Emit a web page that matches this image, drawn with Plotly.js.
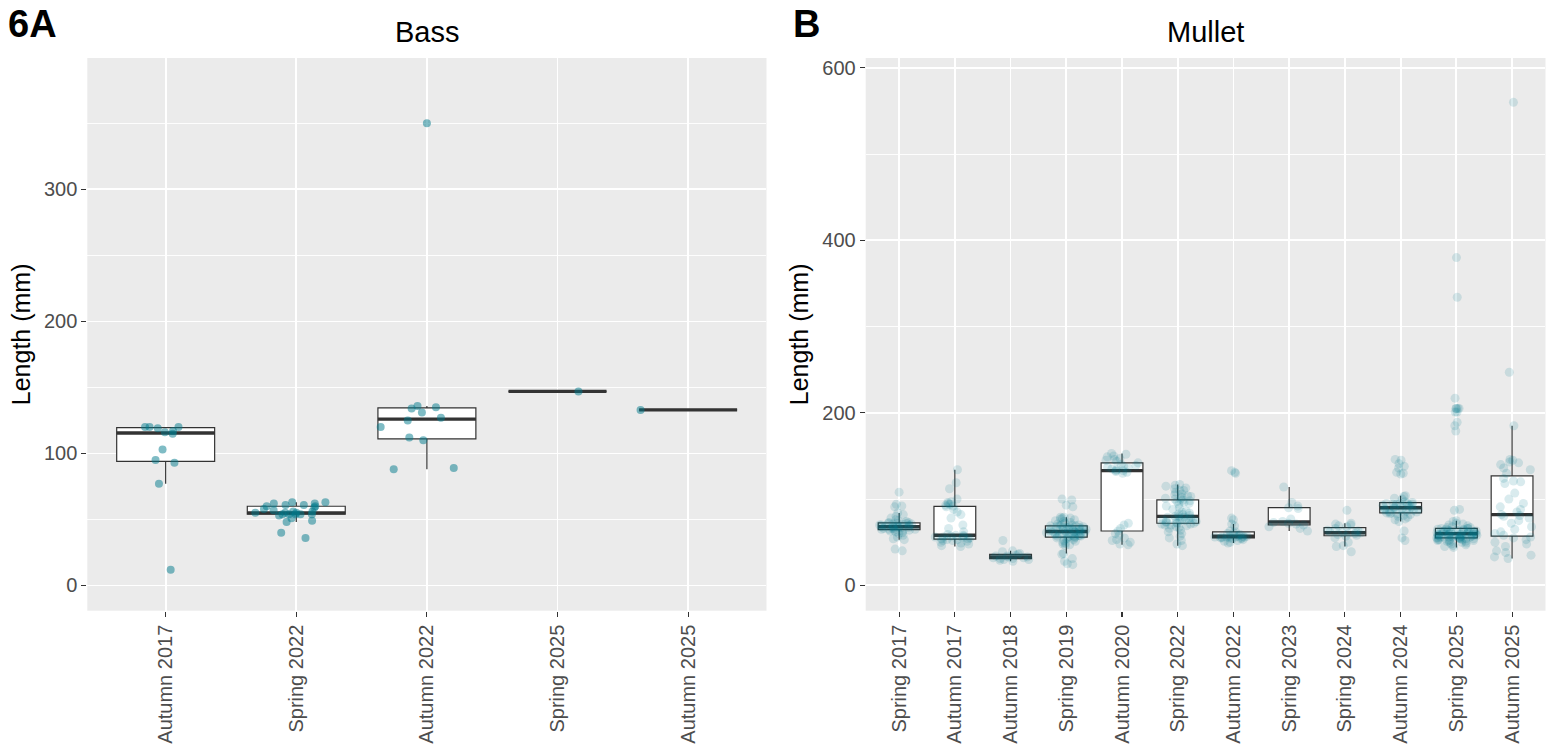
<!DOCTYPE html>
<html><head><meta charset="utf-8">
<script src="https://cdn.plot.ly/plotly-3.0.1.min.js"></script>
<style>html,body{margin:0;padding:0;background:#fff}#chart{width:1547px;height:747px}</style>
</head><body><div id="chart"></div>
<script>
// ---- Bass (panel 6A) ----
const bassCategories = ["Autumn 2017","Spring 2022","Autumn 2022","Spring 2025","Autumn 2025"];
const bassAutumn2017 = [120,117,116,119,115,120,120,103,95,93,77,12];
const bassSpring2022 = [51,49,59,54,54,58,63,60,62,63,61,60,56,61,48,54,62,55,54,54,36,40,55,56,53,57,55];
const bassAutumn2022 = [350,131,134,120,135,136,125,127,110,112,88,89];
const bassSpring2025 = [147];
const bassAutumn2025 = [133];

// ---- Mullet (panel B) ----
const mulletCategories = ["Spring 2017","Autumn 2017","Autumn 2018","Spring 2019","Autumn 2020","Spring 2022","Autumn 2022","Spring 2023","Spring 2024","Autumn 2024","Spring 2025","Autumn 2025"];
const mulletSpring2017 = [108,94,92,91,84,82,80,78,76,75,74,73,73,72,72,72,71,71,71,70,70,70,69,69,69,68,68,68,68,67,67,67,66,66,66,65,65,65,64,64,63,63,62,61,60,58,56,54,53,42,40];
const mulletAutumn2017 = [134,119,112,100,97,96,95,94,93,92,91,88,85,82,78,70,66,62,59,58,58,57,57,56,56,55,55,54,54,53,53,52,52,51,50,49,48,46,45];
const mulletAutumn2018 = [52,40,39,37,36,35,34,34,33,33,32,32,31,31,30,30,29,28];
const mulletSpring2019 = [100,99,93,91,79,79,78,78,77,76,75,74,73,72,71,70,70,70,69,69,69,68,68,68,67,67,67,66,66,66,65,65,65,64,64,64,63,63,63,62,62,62,62,61,61,61,60,60,60,59,59,59,58,58,58,57,57,57,56,56,56,55,55,54,53,52,51,50,49,48,47,46,37,36,31,28,25,24];
const mulletAutumn2020 = [153,152,150,149,147,146,145,144,142,140,139,138,137,136,135,134,133,133,132,131,130,72,70,66,63,60,58,55,53,52,50,48,47];
const mulletSpring2022 = [117,116,115,113,112,110,110,108,106,105,104,103,102,101,100,100,99,98,97,96,95,94,92,90,88,86,85,84,83,82,81,80,80,79,79,78,78,77,77,76,76,75,75,74,74,73,73,72,72,71,71,70,70,69,68,67,66,64,62,60,57,55,52,48,46];
const mulletAutumn2022 = [133,131,130,78,76,71,69,63,62,61,60,59,58,57,57,57,57,56,56,56,56,56,55,55,55,55,54,54,53,52,51,50,49];
const mulletSpring2023 = [114,96,92,90,89,77,74,73,72,71,70,68,66,63];
const mulletSpring2024 = [87,72,71,70,69,68,66,64,63,62,62,61,61,60,60,59,58,57,55,50,46,45,39];
const mulletAutumn2024 = [146,145,141,138,136,131,130,129,104,103,101,100,97,96,95,95,95,94,94,94,93,93,92,92,91,91,90,90,89,89,89,88,88,87,87,86,86,85,85,84,84,83,83,82,81,80,79,77,76,74,63,55,52];
const mulletSpring2025 = [380,334,217,205,205,205,205,201,201,189,185,179,88,87,75,74,72,71,70,69,68,67,67,66,66,66,65,65,65,64,64,64,63,63,63,63,62,62,62,62,61,61,61,61,60,60,60,60,60,59,59,59,59,59,58,58,58,58,58,57,57,57,57,57,56,56,56,56,56,55,55,55,55,55,54,54,54,54,53,53,53,53,52,52,52,51,51,50,50,49,48,47,46,45,44];
const mulletAutumn2025 = [560,247,185,146,145,143,142,140,136,134,130,124,121,120,118,107,100,95,91,88,85,82,81,80,78,75,72,68,65,62,60,58,56,55,53,50,48,45,40,38,35,33,31];

const bassGroups = [bassAutumn2017,bassSpring2022,bassAutumn2022,bassSpring2025,bassAutumn2025];
const mulletGroups = [mulletSpring2017,mulletAutumn2017,mulletAutumn2018,mulletSpring2019,mulletAutumn2020,mulletSpring2022,mulletAutumn2022,mulletSpring2023,mulletSpring2024,mulletAutumn2024,mulletSpring2025,mulletAutumn2025];

const POINT_COLOR = '#00798C';
const DARK = '#333333';

function median(arr){
  const s = arr.slice().sort((a,b)=>a-b); const n = s.length;
  return n % 2 ? s[(n-1)/2] : (s[n/2-1] + s[n/2]) / 2;
}

function panelTraces(cats, groups, xa, ya, ptSize, ptOpacity){
  const xs = [], ys = [];
  cats.forEach((c,i) => groups[i].forEach(v => { xs.push(c); ys.push(v); }));
  const meds = groups.map(median);
  const common = {type:'box', xaxis:xa, yaxis:ya, width:0.75, whiskerwidth:0, hoverinfo:'skip', showlegend:false};
  return [
    Object.assign({}, common, {x:xs, y:ys, quartilemethod:'inclusive', boxpoints:'outliers',
      marker:{opacity:0, size:1}, fillcolor:'#FFFFFF', line:{color:DARK, width:1.2}}),
    Object.assign({}, common, {x:cats, q1:meds, median:meds, q3:meds, lowerfence:meds, upperfence:meds,
      boxpoints:false, fillcolor:'rgba(0,0,0,0)', line:{color:DARK, width:3.4}}),
    Object.assign({}, common, {x:xs, y:ys, quartilemethod:'inclusive', boxpoints:'all', jitter:1, pointpos:0,
      fillcolor:'rgba(0,0,0,0)', line:{color:'rgba(0,0,0,0)', width:0},
      marker:{color:POINT_COLOR, size:ptSize, opacity:ptOpacity, line:{width:0}}})
  ];
}

const data = [].concat(
  panelTraces(bassCategories, bassGroups, 'x', 'y', 8, 0.5),
  panelTraces(mulletCategories, mulletGroups, 'x2', 'y2', 9, 0.15)
);

const FONT = 'Liberation Sans, Arial, Helvetica, sans-serif';
const xBase = {type:'category', showgrid:true, gridcolor:'#FFFFFF', gridwidth:1.8, zeroline:false, showline:false,
  ticks:'outside', ticklen:5, tickwidth:1.1, tickcolor:DARK, tickangle:-90,
  tickfont:{size:20, color:'#4D4D4D', family:FONT}, fixedrange:true};
const yBase = {showgrid:true, gridcolor:'#FFFFFF', gridwidth:1.8, zeroline:false, showline:false,
  ticks:'outside', ticklen:5, tickwidth:1.1, tickcolor:DARK, tick0:0,
  tickfont:{size:20, color:'#4D4D4D', family:FONT}, fixedrange:true,
  title:{text:'Length (mm)', font:{size:25, color:'#000000', family:FONT}, standoff:6}};

const yDom = [0.18246, 0.92236];
const layout = {
  width:1547, height:747, margin:{l:0, r:0, t:0, b:0},
  paper_bgcolor:'#FFFFFF', plot_bgcolor:'#EBEBEB', showlegend:false, boxmode:'overlay', hovermode:false,
  font:{family:FONT},
  xaxis:Object.assign({}, xBase, {domain:[0.05643, 0.49547], anchor:'y', categoryorder:'array', categoryarray:bassCategories, range:[-0.6, bassCategories.length-0.4]}),
  yaxis:Object.assign({}, yBase, {domain:yDom, anchor:'x', range:[-19.1, 399.5], dtick:100,
    minor:{dtick:50, showgrid:true, gridcolor:'#FFFFFF', gridwidth:0.9}}),
  xaxis2:Object.assign({}, xBase, {domain:[0.5596, 0.99903], anchor:'y2', categoryorder:'array', categoryarray:mulletCategories, range:[-0.6, mulletCategories.length-0.4]}),
  yaxis2:Object.assign({}, yBase, {domain:yDom, anchor:'x2', range:[-29.4, 611.4], dtick:200,
    minor:{dtick:100, showgrid:true, gridcolor:'#FFFFFF', gridwidth:0.9}}),
  annotations:[
    {text:'Bass', xref:'paper', yref:'paper', x:(0.05643+0.49547)/2, y:1-32/747, xanchor:'center', yanchor:'middle', showarrow:false, font:{size:29, color:'#000000', family:FONT}},
    {text:'Mullet', xref:'paper', yref:'paper', x:(0.5596+0.99903)/2, y:1-32/747, xanchor:'center', yanchor:'middle', showarrow:false, font:{size:29, color:'#000000', family:FONT}},
    {text:'<b>6A</b>', xref:'paper', yref:'paper', x:6/1547, y:1-24/747, xanchor:'left', yanchor:'middle', showarrow:false, font:{size:38, color:'#000000', family:FONT}},
    {text:'<b>B</b>', xref:'paper', yref:'paper', x:791/1547, y:1-24/747, xanchor:'left', yanchor:'middle', showarrow:false, font:{size:38, color:'#000000', family:FONT}}
  ]
};

Plotly.newPlot('chart', data, layout, {displayModeBar:false, staticPlot:true});
</script>
</body></html>
